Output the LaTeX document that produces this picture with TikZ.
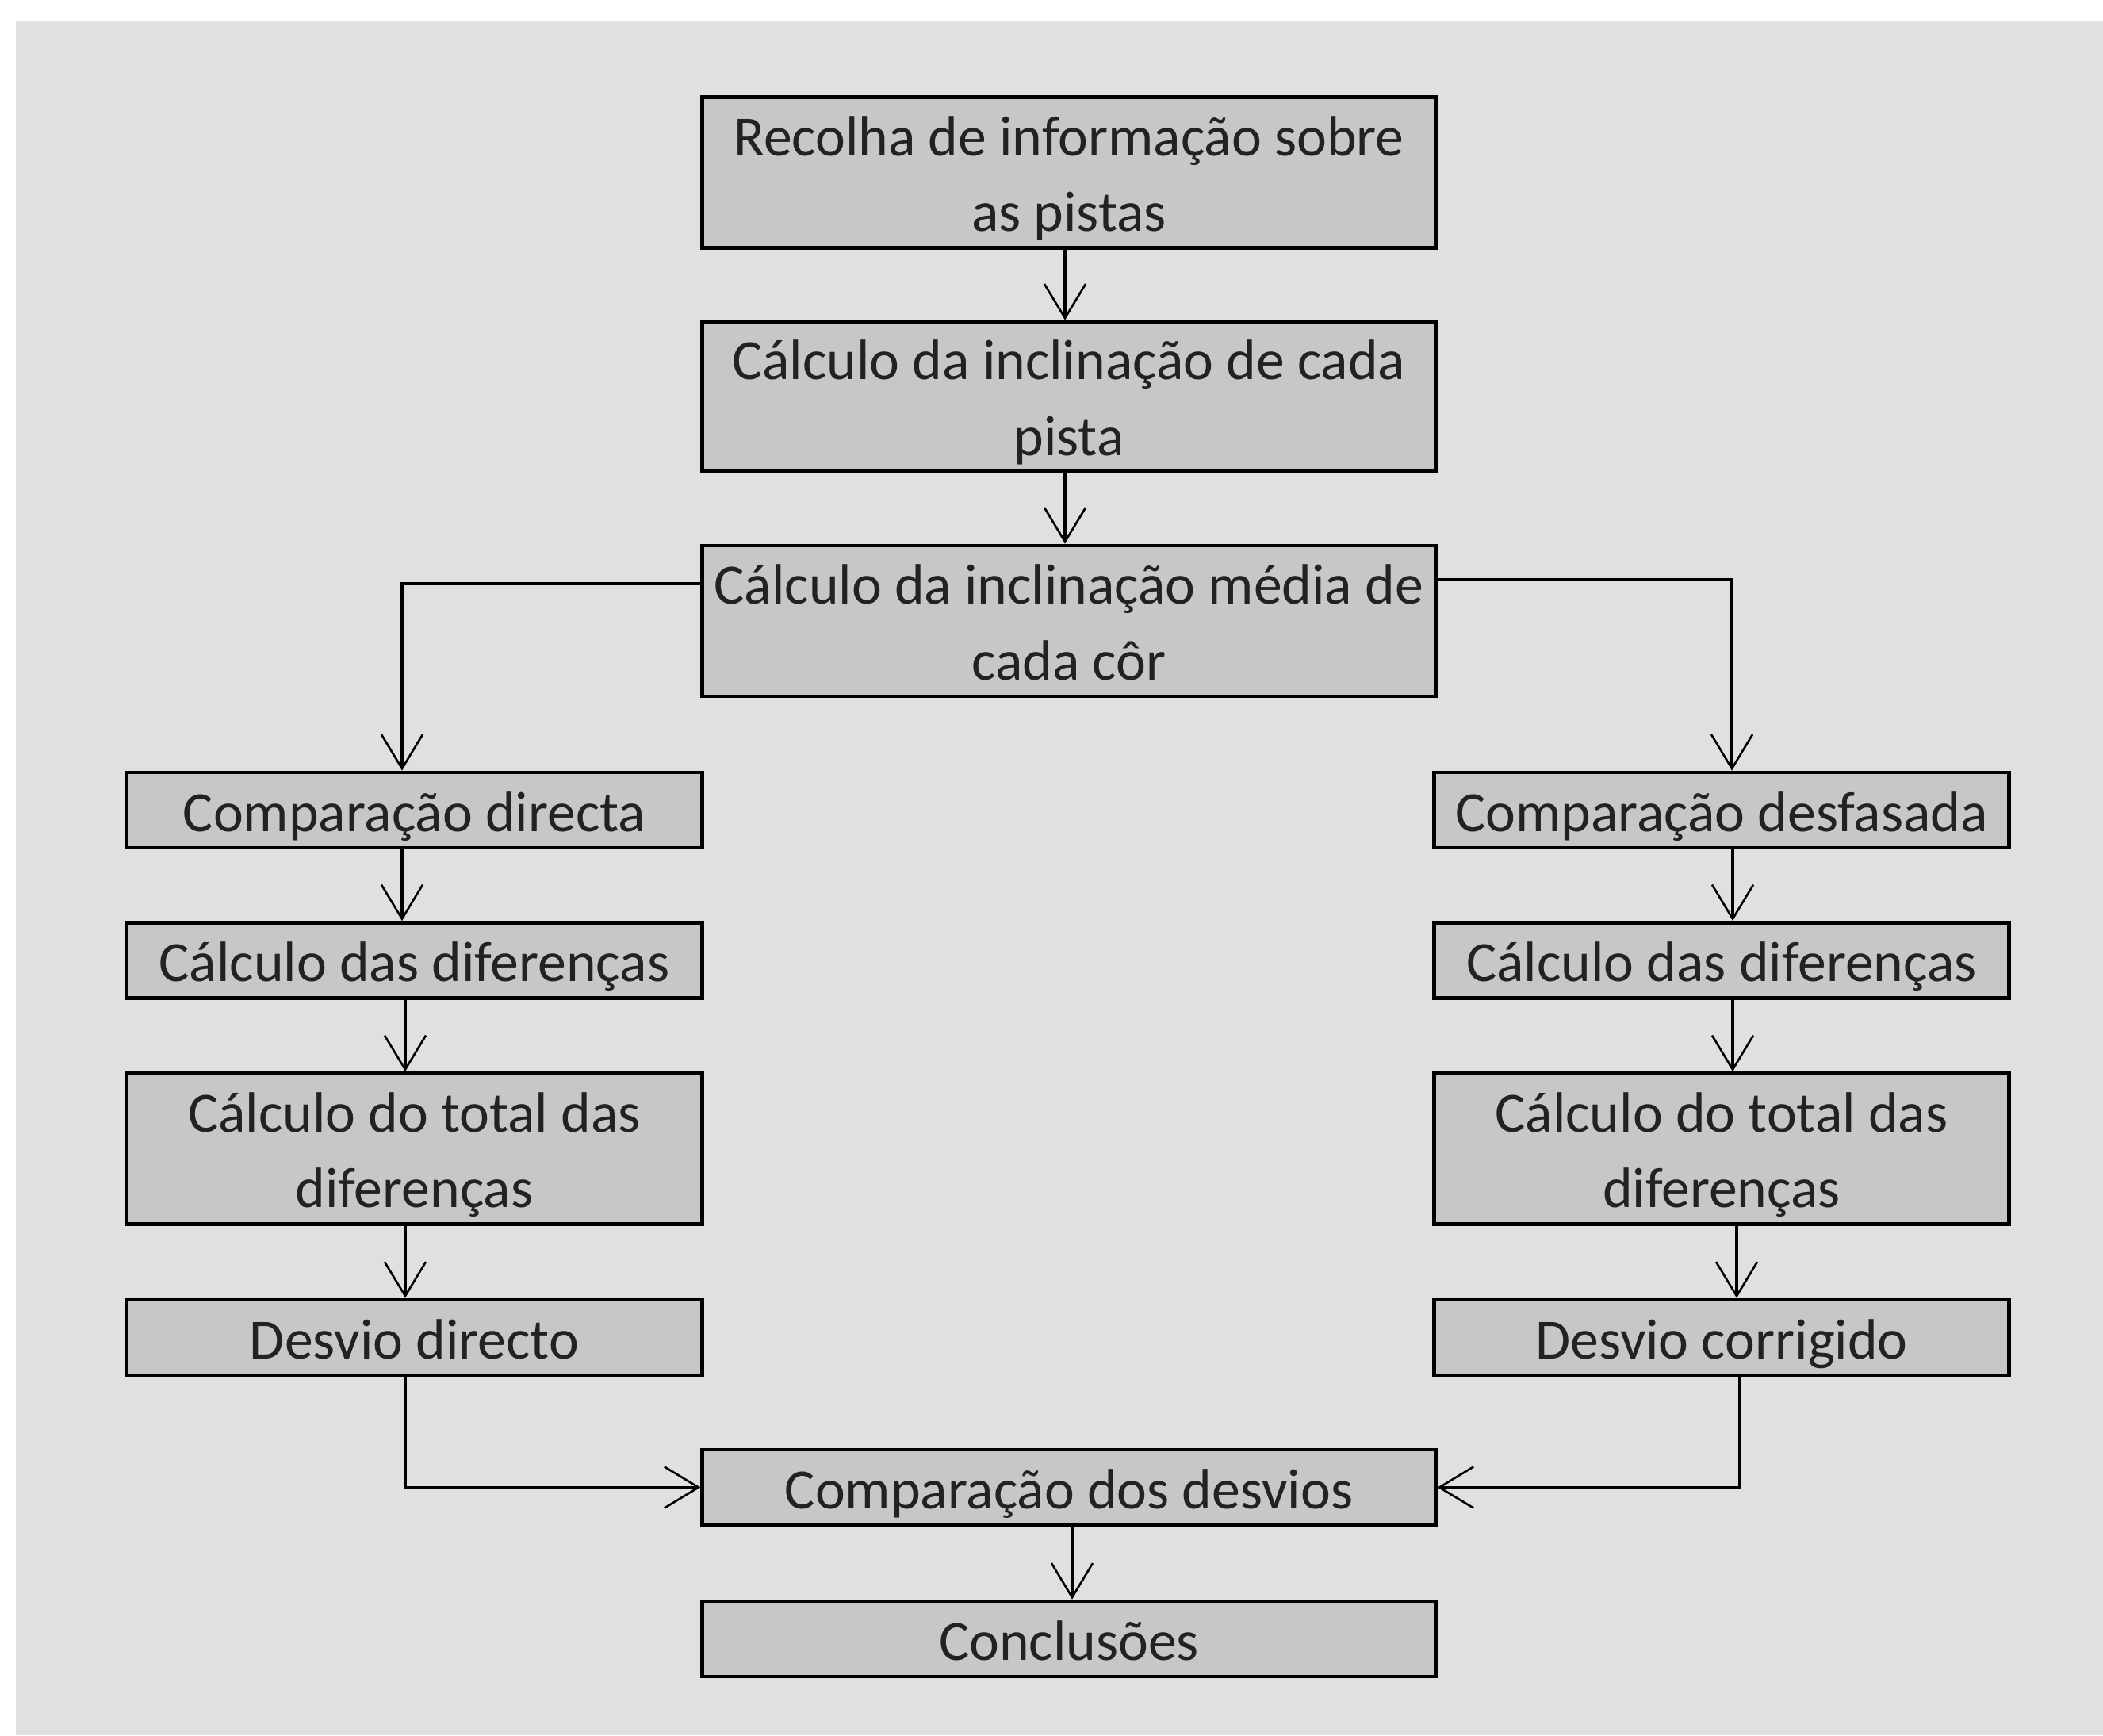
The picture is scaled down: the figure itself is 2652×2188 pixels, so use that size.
\documentclass[tikz,border=0pt]{standalone}
\usepackage{fontspec}
\setmainfont{Carlito}
\usetikzlibrary{arrows.meta,calc}
\definecolor{bggray}{HTML}{E0E0E0}
\definecolor{boxgray}{HTML}{C7C7C7}
\definecolor{txtgray}{HTML}{222222}
\newcommand\twolines[2]{\vtop{\baselineskip=0.95cm\lineskiplimit=-10cm\lineskip=0pt\halign{\hfil##\hfil\cr#1\cr#2\cr}}}
\tikzset{
  flowbox/.style={draw=black, fill=boxgray, line width=1.3pt, inner sep=0pt,
    text=txtgray, font=\fontsize{20.4}{27}\selectfont, anchor=center},
  oneline/.style={flowbox, text height=0.53cm, text depth=0pt, minimum height=0.95cm},
  twoline/.style={flowbox, text height=0pt, text depth=0.42cm, minimum height=1.9cm},
  widebox/.style={minimum width=9.24cm},
  sidebox/.style={minimum width=7.25cm},
  conn/.style={draw=black, line width=1.15pt,
    -{Straight Barb[length=0.43cm, width=0.52cm, line width=0.75pt]}}
}
\begin{document}
\begin{tikzpicture}[x=0.01cm, y=-0.01cm]
\useasboundingbox (0,0) rectangle (2652,2188);
\fill[white] (0,0) rectangle (2652,2188);
\fill[bggray] (20,26) rectangle (2652,2188);

% main column
\node[twoline, widebox] (b1) at (1348,217.5) {\twolines{Recolha de informação sobre}{as pistas}};
\node[twoline, widebox, minimum height=1.88cm] (b2) at (1348,500) {\twolines{Cálculo da inclinação de cada}{pista}};
\node[twoline, widebox] (b3) at (1348,783) {\twolines{Cálculo da inclinação média de}{cada côr}};

% left column
\node[oneline, sidebox] (l1) at (522.5,1021.5) {Comparação directa};
\node[oneline, sidebox] (l2) at (522.5,1211) {Cálculo das diferenças};
\node[twoline, sidebox] (l3) at (522.5,1448.5) {\twolines{Cálculo do total das}{diferenças}};
\node[oneline, sidebox] (l4) at (522.5,1686.5) {Desvio directo};

% right column
\node[oneline, sidebox] (r1) at (2171,1021.5) {Comparação desfasada};
\node[oneline, sidebox] (r2) at (2171,1211) {Cálculo das diferenças};
\node[twoline, sidebox] (r3) at (2171,1448.5) {\twolines{Cálculo do total das}{diferenças}};
\node[oneline, sidebox] (r4) at (2171,1686.5) {Desvio corrigido};

% bottom
\node[oneline, widebox] (cmp) at (1348,1875.5) {Comparação dos desvios};
\node[oneline, widebox] (concl) at (1348,2066.5) {Conclusões};

% connectors
\draw[conn] ($(b1.south)+(-5,0)$) -- ($(b2.north)+(-5,0)$);
\draw[conn] ($(b2.south)+(-5,0)$) -- ($(b3.north)+(-5,0)$);
\draw[conn] ($(b3.west)+(0,-47)$) -| ($(l1.north)+(-15.5,0)$);
\draw[conn] ($(b3.east)+(0,-52)$) -| ($(r1.north)+(13,0)$);

\draw[conn] ($(l1.south)+(-15.5,0)$) -- ($(l2.north)+(-15.5,0)$);
\draw[conn] ($(l2.south)+(-11.5,0)$) -- ($(l3.north)+(-11.5,0)$);
\draw[conn] ($(l3.south)+(-11.5,0)$) -- ($(l4.north)+(-11.5,0)$);

\draw[conn] ($(r1.south)+(14,0)$) -- ($(r2.north)+(14,0)$);
\draw[conn] ($(r2.south)+(14,0)$) -- ($(r3.north)+(14,0)$);
\draw[conn] ($(r3.south)+(19,0)$) -- ($(r4.north)+(19,0)$);

\draw[conn] ($(l4.south)+(-11.5,0)$) |- (cmp.west);
\draw[conn] ($(r4.south)+(23,0)$) |- (cmp.east);
\draw[conn] ($(cmp.south)+(4,0)$) -- ($(concl.north)+(4,0)$);
\end{tikzpicture}
\end{document}
